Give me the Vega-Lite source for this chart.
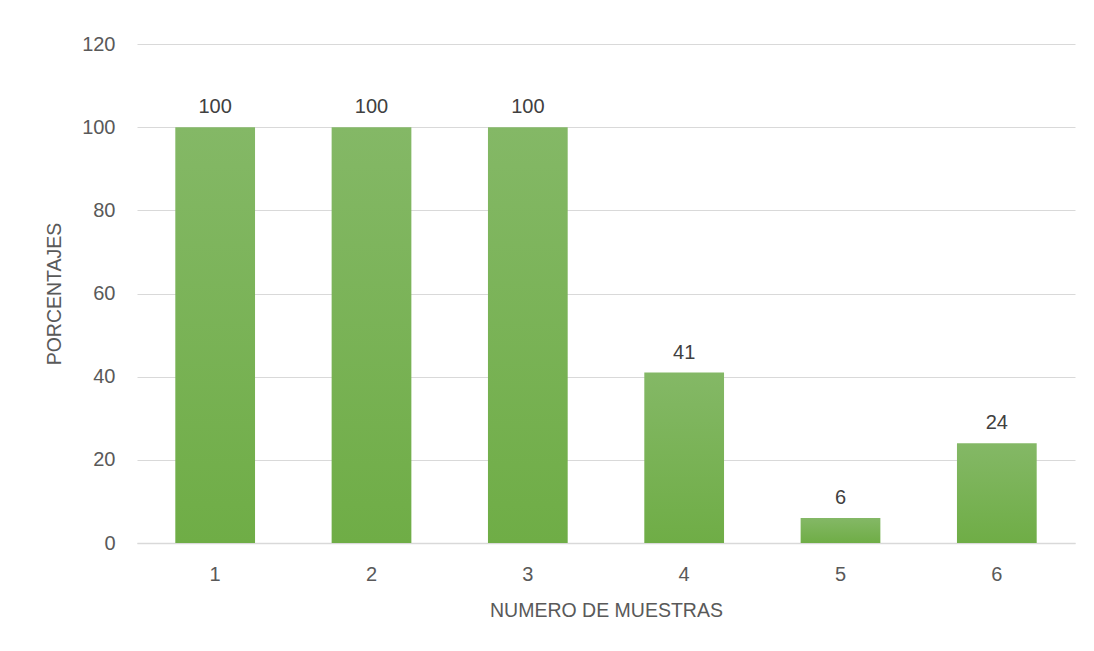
{
  "$schema": "https://vega.github.io/schema/vega-lite/v6.json",
  "autosize": {"type": "none"},
  "width": 938,
  "height": 499,
  "padding": {"left": 137, "top": 44, "right": 19, "bottom": 108},
  "background": "#ffffff",
  "config": {
    "view": {"stroke": null},
    "font": "Liberation Sans",
    "axis": {
      "labelFont": "Liberation Sans",
      "titleFont": "Liberation Sans",
      "labelColor": "#595959",
      "titleColor": "#595959",
      "labelFontSize": 20,
      "titleFontSize": 19.5,
      "titleFontWeight": "normal"
    }
  },
  "data": {
    "values": [
      {"muestra": "1", "porcentaje": 100},
      {"muestra": "2", "porcentaje": 100},
      {"muestra": "3", "porcentaje": 100},
      {"muestra": "4", "porcentaje": 41},
      {"muestra": "5", "porcentaje": 6},
      {"muestra": "6", "porcentaje": 24}
    ]
  },
  "encoding": {
    "x": {
      "field": "muestra",
      "type": "ordinal",
      "sort": null,
      "scale": {"paddingInner": 0.49, "paddingOuter": 0.245},
      "axis": {
        "title": "NUMERO DE MUESTRAS",
        "labelAngle": 0,
        "labelPadding": 21,
        "titlePadding": 17,
        "ticks": false,
        "domainColor": "#d9d9d9",
        "domainWidth": 1.5,
        "grid": false
      }
    },
    "y": {
      "field": "porcentaje",
      "type": "quantitative",
      "scale": {"domain": [0, 120], "nice": false},
      "axis": {
        "title": "PORCENTAJES",
        "values": [0, 20, 40, 60, 80, 100, 120],
        "domain": false,
        "ticks": false,
        "labelPadding": 22,
        "titlePadding": 17,
        "gridColor": "#d9d9d9",
        "gridWidth": 1.2
      }
    }
  },
  "layer": [
    {
      "mark": {
        "type": "bar",
        "color": {
          "gradient": "linear",
          "x1": 0, "y1": 0, "x2": 0, "y2": 1,
          "stops": [
            {"offset": 0, "color": "#84b866"},
            {"offset": 1, "color": "#6fad46"}
          ]
        }
      }
    },
    {
      "mark": {
        "type": "text",
        "baseline": "bottom",
        "dy": -10,
        "fontSize": 20,
        "color": "#404040",
        "font": "Liberation Sans"
      },
      "encoding": {"text": {"field": "porcentaje", "type": "quantitative"}}
    }
  ]
}
